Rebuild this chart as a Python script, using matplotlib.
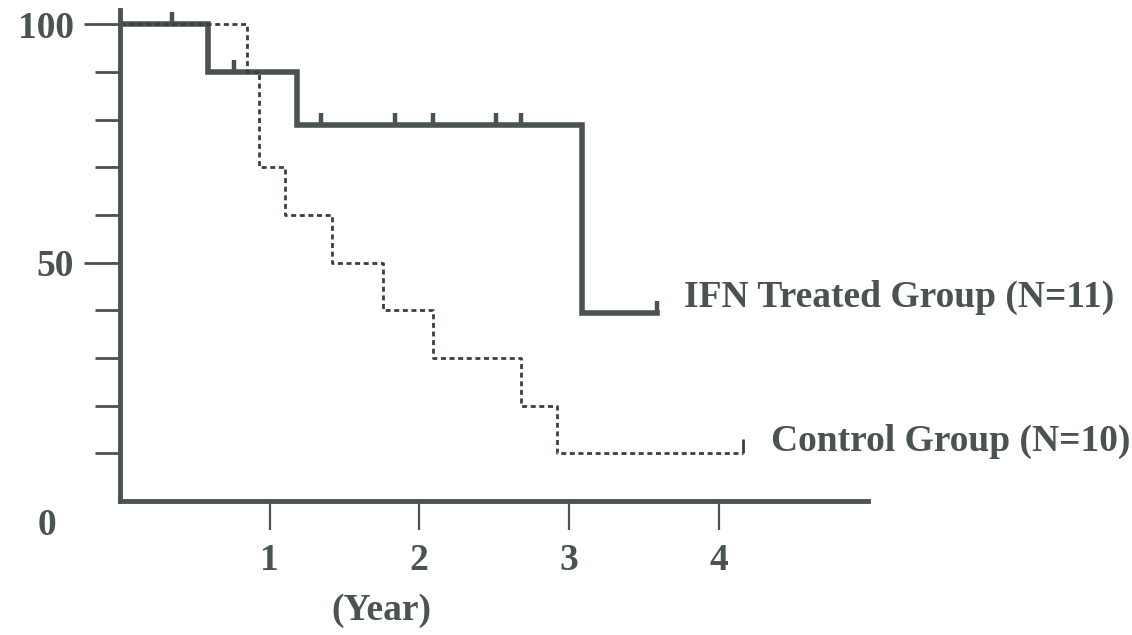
import numpy as np
import matplotlib
matplotlib.use("Agg")
from matplotlib import pyplot as plt

# Kaplan-Meier style survival steps (years, percent)
ifn_times = [0, 0.59, 1.18, 3.09, 3.59]
ifn_surv = [100, 90, 78.8, 39.4, 39.4]
ifn_censored = [0.35, 0.76, 1.34, 1.84, 2.09, 2.51, 2.68, 3.59]

ctrl_times = [0, 0.85, 0.93, 1.10, 1.42, 1.76, 2.09, 2.68, 2.92, 4.16]
ctrl_surv = [100, 90, 70, 60, 50, 40, 30, 20, 10, 10]
ctrl_censored = [4.16]

x_ticks = [1, 2, 3, 4]
y_labeled = [50, 100]
y_minor = [10, 20, 30, 40, 60, 70, 80, 90]

ink = '#4b5252'
font = ['Liberation Serif', 'DejaVu Serif']
fsize = 27


def level_at(times, surv, t):
    i = np.searchsorted(times, t, side='right') - 1
    return np.asarray(surv)[i]


fig = plt.figure(figsize=(11.32, 6.35), dpi=100)
ax = fig.add_axes([0.106, 0.211, 0.661, 0.773])

ax.step(ifn_times, ifn_surv, where='post', color=ink, lw=4.0, solid_joinstyle='miter')
ax.plot(ifn_censored, level_at(ifn_times, ifn_surv, ifn_censored), ls='none',
        marker=2, ms=9, mew=3.2, color=ink)

ax.step(ctrl_times, ctrl_surv, where='post', color='#3a3f3f', lw=2.0,
        dashes=(1.8, 1.3))
ax.plot(ctrl_censored, level_at(ctrl_times, ctrl_surv, ctrl_censored), ls='none',
        marker=2, ms=10, mew=2.0, color='#3a3f3f')

ax.set_xlim(0, 5)
ax.set_ylim(0, 103)

for side in ['top', 'right']:
    ax.spines[side].set_visible(False)
for side in ['left', 'bottom']:
    ax.spines[side].set_linewidth(3.5)
    ax.spines[side].set_color(ink)

ax.set_xticks(x_ticks)
ax.set_xticklabels([str(t) for t in x_ticks])
ax.set_yticks(y_labeled)
ax.set_yticklabels([str(v) for v in y_labeled])
ax.set_yticks(y_minor, minor=True)

ax.tick_params(axis='x', direction='out', length=21, width=1.6, color=ink, pad=9)
ax.tick_params(axis='y', which='major', direction='out', length=26, width=2.0, color=ink, pad=7)
ax.tick_params(axis='y', which='minor', direction='out', length=18, width=2.0, color=ink)
for lab in ax.get_xticklabels() + ax.get_yticklabels():
    lab.set_fontfamily(font)
    lab.set_fontweight('bold')
    lab.set_fontsize(fsize)
    lab.set_color(ink)

ax.text(3.77, 42.8, 'IFN Treated Group (N=11)', ha='left', va='center',
        fontsize=fsize, fontweight='bold', family=font, color=ink, clip_on=False)
ax.text(4.35, 12.6, 'Control Group (N=10)', ha='left', va='center',
        fontsize=fsize, fontweight='bold', family=font, color=ink, clip_on=False)

fig.text(0.0415, 0.173, '0', ha='center', va='center', fontsize=fsize,
         fontweight='bold', family=font, color=ink)
fig.text(0.337, 0.038, '(Year)', ha='center', va='center', fontsize=fsize,
         fontweight='bold', family=font, color=ink)

fig.savefig('out.png', dpi=100, facecolor='white')
